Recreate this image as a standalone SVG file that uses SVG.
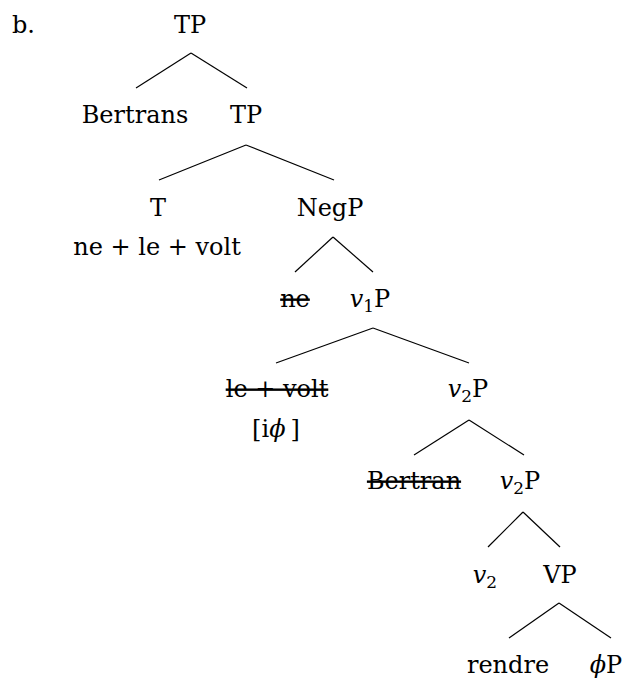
<svg xmlns="http://www.w3.org/2000/svg" width="631" height="679" viewBox="0 0 631 679">
<style>
text{font-family:"DejaVu Serif","Liberation Serif",serif;font-size:24px;fill:#000;text-anchor:middle}
.s{text-decoration:line-through}
.i{font-style:italic}
.sub{font-size:17px}
.e line{stroke:#000;stroke-width:1.2}
</style>
<rect width="631" height="679" fill="#fff"/>
<text x="12" y="33" style="text-anchor:start">b.</text>
<g class="e" id="connectors">
<line x1="191" y1="53" x2="136" y2="88"/><line x1="191" y1="53" x2="247" y2="88"/>
<line x1="246" y1="145" x2="159" y2="180"/><line x1="246" y1="145" x2="334" y2="180"/>
<line x1="333" y1="237" x2="295" y2="272"/><line x1="333" y1="237" x2="373" y2="272"/>
<line x1="373" y1="328" x2="276" y2="363"/><line x1="373" y1="328" x2="469" y2="363"/>
<line x1="469" y1="420" x2="414" y2="455"/><line x1="469" y1="420" x2="524" y2="455"/>
<line x1="523" y1="512" x2="488" y2="547"/><line x1="523" y1="512" x2="560" y2="547"/>
<line x1="559" y1="603" x2="509" y2="638"/><line x1="559" y1="603" x2="611" y2="638"/>
</g>
<g id="tp1"><text x="190" y="33">TP</text></g>
<g id="bertrans"><text x="135" y="123">Bertrans</text></g>
<g id="tp2"><text x="246" y="123">TP</text></g>
<g id="t"><text x="158" y="216">T</text><text x="157" y="255">ne + le + volt</text></g>
<g id="negp"><text x="330" y="216">NegP</text></g>
<g id="ne"><text x="295" y="307" class="s">ne</text></g>
<g id="v1p"><text x="370" y="307"><tspan class="i">v</tspan><tspan class="sub" dy="5">1</tspan><tspan dy="-5">P</tspan></text></g>
<g id="levolt"><text x="277" y="397" class="s">le + volt</text><text x="276" y="437">[i<tspan class="i">ϕ</tspan><tspan dx="5">]</tspan></text></g>
<g id="v2p1"><text x="468" y="397"><tspan class="i">v</tspan><tspan class="sub" dy="5">2</tspan><tspan dy="-5">P</tspan></text></g>
<g id="bertran"><text x="414" y="489" class="s">Bertran</text></g>
<g id="v2p2"><text x="520" y="489"><tspan class="i">v</tspan><tspan class="sub" dy="5">2</tspan><tspan dy="-5">P</tspan></text></g>
<g id="v2"><text x="485" y="583"><tspan class="i">v</tspan><tspan class="sub" dy="5">2</tspan></text></g>
<g id="vp"><text x="560" y="583">VP</text></g>
<g id="rendre"><text x="508" y="673">rendre</text></g>
<g id="phip"><text x="606" y="673"><tspan class="i">ϕ</tspan>P</text></g>
</svg>
